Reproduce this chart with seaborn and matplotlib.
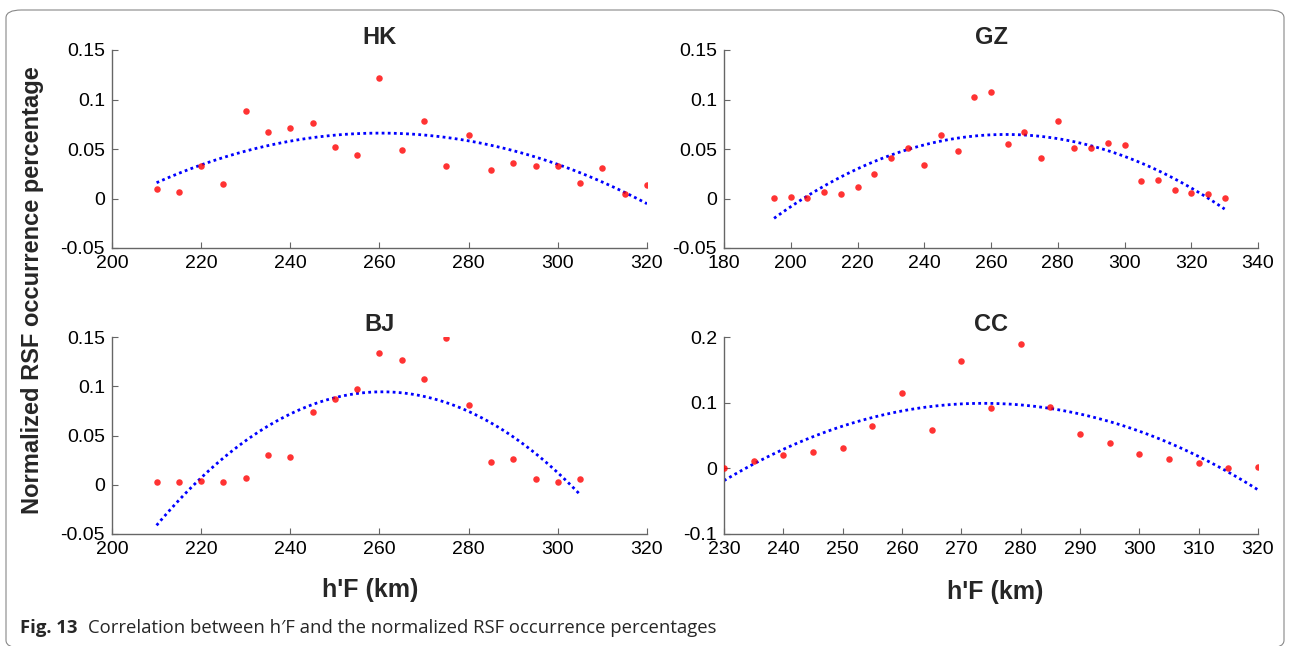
import numpy as np
import pandas as pd
import matplotlib
matplotlib.use("Agg")
import matplotlib.pyplot as plt
import seaborn as sns
from matplotlib.patches import FancyBboxPatch

# ---- data ----
hk_x = list(range(210, 321, 5))
hk_y = [0.0101, 0.0067, 0.0329, 0.0144, 0.0886, 0.0668, 0.0715, 0.0762, 0.0517,
        0.0436, 0.1221, 0.0490, 0.0779, 0.0329, 0.0638, 0.0292, 0.0362, 0.0329,
        0.0329, 0.0161, 0.0312, 0.0044, 0.0134]
gz_x = list(range(195, 331, 5))
gz_y = [0.0010, 0.0013, 0.0010, 0.0064, 0.0047, 0.0121, 0.0252, 0.0406, 0.0513,
        0.0339, 0.0638, 0.0483, 0.1027, 0.1074, 0.0547, 0.0668, 0.0406, 0.0782,
        0.0510, 0.0507, 0.0564, 0.0537, 0.0178, 0.0185, 0.0087, 0.0054, 0.0044,
        0.0010]
bj_x = list(range(210, 306, 5))
bj_y = [0.0027, 0.0027, 0.0041, 0.0027, 0.0071, 0.0297, 0.0284, 0.0743, 0.0868,
        0.0970, 0.1341, 0.1270, 0.1071, 0.1486, 0.0814, 0.0230, 0.0257, 0.0057,
        0.0027, 0.0057]
cc_x = list(range(230, 321, 5))
cc_y = [0.0005, 0.0107, 0.0199, 0.0245, 0.0312, 0.0649, 0.1145, 0.0577, 0.1635,
        0.0925, 0.1886, 0.0940, 0.0521, 0.0393, 0.0225, 0.0148, 0.0077, 0.0010,
        0.0020]

titles = ["HK", "GZ", "BJ", "CC"]
xlims = [(200, 320), (180, 340), (200, 320), (230, 320)]
xticks = [list(range(200, 321, 20)), list(range(180, 341, 20)),
          list(range(200, 321, 20)), list(range(230, 321, 10))]
ylims = [(-0.05, 0.15), (-0.05, 0.15), (-0.05, 0.15), (-0.1, 0.2)]
yticks = [[-0.05, 0, 0.05, 0.1, 0.15], [-0.05, 0, 0.05, 0.1, 0.15],
          [-0.05, 0, 0.05, 0.1, 0.15], [-0.1, 0, 0.1, 0.2]]
ytick_labels = [["-0.05", "0", "0.05", "0.1", "0.15"]] * 3 + [["-0.1", "0", "0.1", "0.2"]]

sns.set_style("white")
plt.rcParams['font.family'] = ['Liberation Sans', 'DejaVu Sans']

W, H = 1290, 646
fig = plt.figure(figsize=(W / 100, H / 100), dpi=100)

# axes rectangles in pixel coords (left, top, right, bottom)
rects = [(112, 50, 647, 248), (724, 50, 1258, 248),
         (112, 337, 647, 534), (724, 337, 1258, 534)]

datasets = [(hk_x, hk_y), (gz_x, gz_y), (bj_x, bj_y), (cc_x, cc_y)]
axes = []
for i, (l, t, r, b) in enumerate(rects):
    ax = fig.add_axes([l / W, 1 - b / H, (r - l) / W, (b - t) / H])
    axes.append(ax)
    x, y = datasets[i]
    df = pd.DataFrame({"x": x, "y": y})
    sns.regplot(data=df, x="x", y="y", order=2, ci=None, ax=ax,
                scatter_kws=dict(color="#ff0000", s=22, linewidths=0, zorder=3),
                line_kws=dict(color="#0000ff", linestyle=(0, (1.0, 1.2)), linewidth=2.0,
                              dash_capstyle="butt", zorder=2))
    ax.set_xlim(*xlims[i])
    ax.set_ylim(*ylims[i])
    ax.set_xticks(xticks[i])
    ax.set_yticks(yticks[i])
    ax.set_yticklabels(ytick_labels[i])
    ax.set_xlabel("")
    ax.set_ylabel("")
    for s in ["top", "right"]:
        ax.spines[s].set_visible(False)
    for s in ["left", "bottom"]:
        ax.spines[s].set_color("#666666")
        ax.spines[s].set_linewidth(1.0)
    ax.tick_params(direction="in", length=4, width=0.8, color="#666666",
                   labelsize=14, labelcolor="black", left=True, bottom=True, pad=5)
    ax.set_title(titles[i], fontsize=17, fontweight="bold", pad=4)
    ax.patch.set_alpha(0)

fig.text(33 / W, 1 - 290 / H, "Normalized RSF occurrence percentage", rotation=90,
         ha="center", va="center", fontsize=17, fontweight="bold")
fig.text(370 / W, 1 - 590 / H, "h'F (km)", ha="center", va="center",
         fontsize=18, fontweight="bold")
fig.text(995 / W, 1 - 592 / H, "h'F (km)", ha="center", va="center",
         fontsize=18, fontweight="bold")

# caption
fig.text(20 / W, 1 - 628 / H, "Fig. 13", ha="left", va="center",
         fontsize=13.3, fontweight="bold", family=["Open Sans", "DejaVu Sans"])
fig.text(88 / W, 1 - 628 / H,
         "Correlation between h\u2032F and the normalized RSF occurrence percentages",
         ha="left", va="center", fontsize=13.3, family=["Open Sans", "DejaVu Sans"])

# rounded frame
frame = FancyBboxPatch((6 / W, 1 - 648 / H), (1278) / W, (638) / H,
                       boxstyle="round,pad=0,rounding_size=0.012",
                       transform=fig.transFigure, facecolor="none",
                       edgecolor="#888888", linewidth=0.8)
fig.patches.append(frame)

fig.savefig("out.png", dpi=100)
